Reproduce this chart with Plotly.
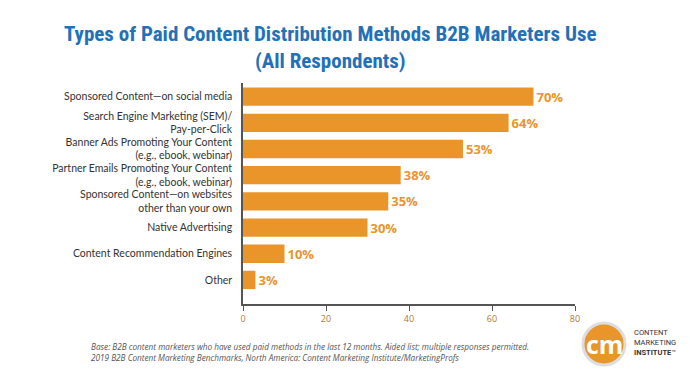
import plotly.graph_objects as go

categories = [
    "Sponsored Content—on social media",
    "Search Engine Marketing (SEM)/<br>Pay-per-Click",
    "Banner Ads Promoting Your Content<br>(e.g., ebook, webinar)",
    "Partner Emails Promoting Your Content<br>(e.g., ebook, webinar)",
    "Sponsored Content—on websites<br>other than your own",
    "Native Advertising",
    "Content Recommendation Engines",
    "Other",
]
values = [70, 64, 53, 38, 35, 30, 10, 3]
tick_vals = [0, 20, 40, 60, 80]

OFF = 8  # page body margin offset (top/left)
W, H = 690 - OFF, 374 - OFF
# plot area in page pixels: x 243..575, y 83..304
L, R, T, B = 243 - OFF, 690 - 575, 83 - OFF, 374 - 304
PW, PH = W - L - R, H - T - B

def px(x):
    return (x - OFF - L) / PW

def py(y):
    return (H - B - (y - OFF)) / PH

ORANGE = "#E9952A"
BLUE = "#2271B8"

fig = go.Figure(go.Bar(
    x=values, y=categories, orientation="h",
    marker=dict(color=ORANGE, line=dict(width=0)),
    width=0.7,
    text=[f"<b>{v}%</b>" for v in values],
    textposition="outside",
    textfont=dict(color=ORANGE, size=13, family="Open Sans"),
    cliponaxis=False,
))

fig.update_layout(
    width=W, height=H,
    margin=dict(l=L, r=R, t=T, b=B),
    plot_bgcolor="white", paper_bgcolor="white",
    showlegend=False,
    bargap=0.3,
    xaxis=dict(
        range=[0, 80], tickvals=tick_vals, showgrid=False, zeroline=False,
        showline=True, linecolor="#555555", linewidth=1.5,
        ticks="outside", ticklen=5, tickcolor="#555555",
        tickfont=dict(size=9, color="#B5793A", family="Open Sans"),
    ),
    yaxis=dict(
        range=[7.92, -0.52], showgrid=False, zeroline=False,
        showline=True, linecolor="#555555", linewidth=1.5,
        ticks="", ticklabelstandoff=7,
        tickfont=dict(size=10.5, color="#333333", family="Lato"),
    ),
)

fig.add_annotation(
    text="<b>Types of Paid Content Distribution Methods B2B Marketers Use<br>(All Respondents)</b>",
    xref="paper", yref="paper", x=px(330), y=py(20), xanchor="center", yanchor="top",
    showarrow=False, align="center",
    font=dict(size=21, color=BLUE, family="Liberation Sans Narrow, Roboto Condensed, Roboto"),
)

fig.add_annotation(
    text="<i>Base: B2B content marketers who have used paid methods in the last 12 months. Aided list; multiple responses permitted.<br>"
         "2019 B2B Content Marketing Benchmarks, North America: Content Marketing Institute/MarketingProfs</i>",
    xref="paper", yref="paper", x=px(89), y=py(339), xanchor="left", yanchor="top",
    showarrow=False, align="left",
    font=dict(size=8.2, color="#555555", family="Open Sans"),
)

# logo
cx, cy, r = 604, 344, 21
fig.add_shape(type="circle", xref="paper", yref="paper",
              x0=px(cx - r), x1=px(cx + r), y0=py(cy + r), y1=py(cy - r),
              fillcolor=ORANGE, line=dict(color="#DDDDDD", width=3), layer="below")
fig.add_annotation(text="<b>cm</b>", xref="paper", yref="paper", x=px(cx), y=py(cy),
                   xanchor="center", yanchor="middle",
                   showarrow=False, font=dict(size=25, color="white", family="Open Sans"))
fig.add_annotation(text="CONTENT<br>MARKETING<br><b>INSTITUTE</b>™", xref="paper", yref="paper",
                   x=px(632), y=py(326), xanchor="left", yanchor="top", align="left",
                   showarrow=False,
                   font=dict(size=7.5, color="#333333", family="Roboto"))

fig.write_html("out.html")
